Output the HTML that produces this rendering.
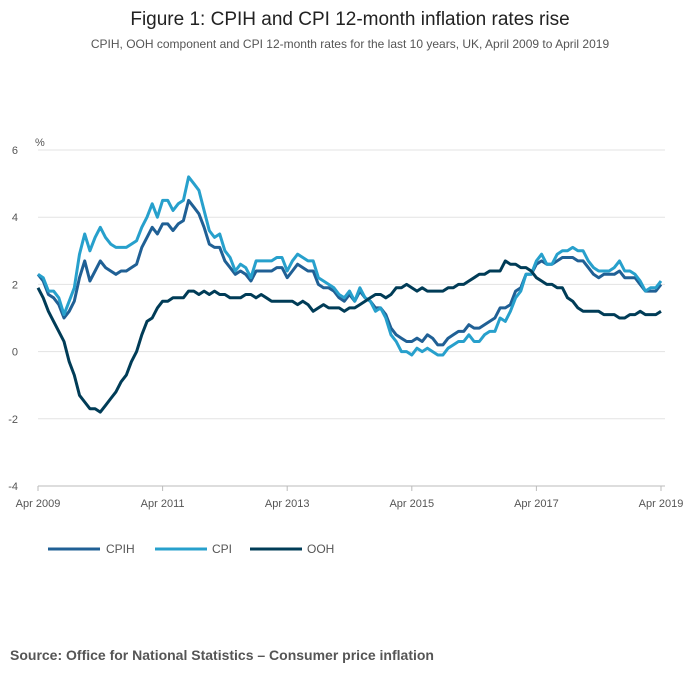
<!DOCTYPE html>
<html><head><meta charset="utf-8">
<style>
body{margin:0;background:#fff;font-family:"Liberation Sans",sans-serif;}
#wrap{position:relative;width:700px;height:682px;overflow:hidden;}
</style></head>
<body>
<div id="wrap">
<svg id="chart" width="700" height="682">
<text x="350" y="25" text-anchor="middle" font-size="19" fill="#222">Figure 1: CPIH and CPI 12-month inflation rates rise</text>
<text x="350" y="48" text-anchor="middle" font-size="12" fill="#555">CPIH, OOH component and CPI 12-month rates for the last 10 years, UK, April 2009 to April 2019</text>
<text x="35" y="146" font-size="11" fill="#555">%</text>
<g id="grid"></g><g id="xaxis"></g><g id="lines"></g>
<g>
<line x1="48" y1="549" x2="100" y2="549" stroke="#206095" stroke-width="3"/>
<text x="106" y="553" font-size="12" fill="#555">CPIH</text>
<line x1="155" y1="549" x2="207" y2="549" stroke="#27a0cc" stroke-width="3"/>
<text x="212" y="553" font-size="12" fill="#555">CPI</text>
<line x1="250" y1="549" x2="302" y2="549" stroke="#003c57" stroke-width="3"/>
<text x="307" y="553" font-size="12" fill="#555">OOH</text>
</g>
<text x="10" y="660" font-size="14" font-weight="bold" fill="#555">Source: Office for National Statistics – Consumer price inflation</text>
</svg>
</div>
<script>
const yTicks=[6,4,2,0,-2,-4];
const xTickLabels=["Apr 2009","Apr 2011","Apr 2013","Apr 2015","Apr 2017","Apr 2019"];
const xTickMonths=[0,24,48,72,96,120];
const cpih=[2.3,2.1,1.7,1.6,1.4,1.0,1.2,1.5,2.2,
2.7,2.1,2.4,2.7,2.5,2.4,2.3,2.4,2.4,2.5,2.6,3.1,
3.4,3.7,3.5,3.8,3.8,3.6,3.8,3.9,4.5,4.3,4.1,3.7,
3.2,3.1,3.1,2.7,2.5,2.3,2.4,2.3,2.1,2.4,2.4,2.4,
2.4,2.5,2.5,2.2,2.4,2.6,2.5,2.4,2.4,2.0,1.9,1.9,
1.8,1.6,1.5,1.7,1.5,1.8,1.6,1.5,1.3,1.3,1.1,0.7,
0.5,0.4,0.3,0.3,0.4,0.3,0.5,0.4,0.2,0.2,0.4,0.5,
0.6,0.6,0.8,0.7,0.7,0.8,0.9,1.0,1.3,1.3,1.4,1.8,
1.9,2.3,2.3,2.6,2.7,2.6,2.6,2.7,2.8,2.8,2.8,2.7,
2.7,2.5,2.3,2.2,2.3,2.3,2.3,2.4,2.2,2.2,2.2,2.0,
1.8,1.8,1.8,2.0];
const cpi=[2.3,2.2,1.8,1.8,1.6,1.1,1.5,1.9,2.9,
3.5,3.0,3.4,3.7,3.4,3.2,3.1,3.1,3.1,3.2,3.3,3.7,
4.0,4.4,4.0,4.5,4.5,4.2,4.4,4.5,5.2,5.0,4.8,4.2,
3.6,3.4,3.5,3.0,2.8,2.4,2.6,2.5,2.2,2.7,2.7,2.7,
2.7,2.8,2.8,2.4,2.7,2.9,2.8,2.7,2.7,2.2,2.1,2.0,
1.9,1.7,1.6,1.8,1.5,1.9,1.6,1.5,1.2,1.3,1.0,0.5,
0.3,0.0,0.0,-0.1,0.1,0.0,0.1,0.0,-0.1,-0.1,0.1,0.2,
0.3,0.3,0.5,0.3,0.3,0.5,0.6,0.6,1.0,0.9,1.2,1.6,
1.8,2.3,2.3,2.7,2.9,2.6,2.6,2.9,3.0,3.0,3.1,3.0,
3.0,2.7,2.5,2.4,2.4,2.4,2.5,2.7,2.4,2.4,2.3,2.1,
1.8,1.9,1.9,2.1];
const ooh=[1.9,1.6,1.2,0.9,0.6,0.3,-0.3,-0.7,-1.3,
-1.5,-1.7,-1.7,-1.8,-1.6,-1.4,-1.2,-0.9,-0.7,-0.3,0.0,0.5,
0.9,1.0,1.3,1.5,1.5,1.6,1.6,1.6,1.8,1.8,1.7,1.8,
1.7,1.8,1.7,1.7,1.6,1.6,1.6,1.7,1.7,1.6,1.7,1.6,
1.5,1.5,1.5,1.5,1.5,1.4,1.5,1.4,1.2,1.3,1.4,1.3,
1.3,1.3,1.2,1.3,1.3,1.4,1.5,1.6,1.7,1.7,1.6,1.7,
1.9,1.9,2.0,1.9,1.8,1.9,1.8,1.8,1.8,1.8,1.9,1.9,
2.0,2.0,2.1,2.2,2.3,2.3,2.4,2.4,2.4,2.7,2.6,2.6,
2.5,2.5,2.4,2.2,2.1,2.0,2.0,1.9,1.9,1.6,1.5,1.3,
1.2,1.2,1.2,1.2,1.1,1.1,1.1,1.0,1.0,1.1,1.1,1.2,
1.1,1.1,1.1,1.2];
const NS="http://www.w3.org/2000/svg";
const X0=38,X1=661,Y0=150,Y1=486;
function xs(i){return X0+(X1-X0)*i/120;}
function ys(v){return Y0+(6-v)*(Y1-Y0)/10;}
const grid=document.getElementById('grid');
yTicks.forEach(t=>{
 const l=document.createElementNS(NS,'line');
 l.setAttribute('x1',X0);l.setAttribute('x2',665);l.setAttribute('y1',ys(t));l.setAttribute('y2',ys(t));
 l.setAttribute('stroke',t===-4?'#bbb':'#e3e3e3');l.setAttribute('stroke-width','1');
 
 
 grid.appendChild(l);
 const tx=document.createElementNS(NS,'text');
 tx.setAttribute('x',18);tx.setAttribute('y',ys(t)+4);tx.setAttribute('text-anchor','end');
 tx.setAttribute('font-size','11');tx.setAttribute('fill','#555');tx.textContent=t;
 
 
 grid.appendChild(tx);
});
const xa=document.getElementById('xaxis');
xTickMonths.forEach((m,i)=>{
 const l=document.createElementNS(NS,'line');
 l.setAttribute('x1',xs(m));l.setAttribute('x2',xs(m));l.setAttribute('y1',Y1);l.setAttribute('y2',Y1+5);
 l.setAttribute('stroke','#bbb');
 
 
 xa.appendChild(l);
 const tx=document.createElementNS(NS,'text');
 tx.setAttribute('x',xs(m));tx.setAttribute('y',507);tx.setAttribute('text-anchor','middle');
 tx.setAttribute('font-size','11');tx.setAttribute('fill','#555');tx.textContent=xTickLabels[i];
 
 
 xa.appendChild(tx);
});
const lines=document.getElementById('lines');
[[cpih,'#206095','cpih-line'],[cpi,'#27a0cc','cpi-line'],[ooh,'#003c57','ooh-line']].forEach(s=>{
 const p=document.createElementNS(NS,'path');
 p.setAttribute('d',s[0].map((v,i)=>(i?'L':'M')+xs(i).toFixed(1)+','+ys(v).toFixed(1)).join(''));
 p.setAttribute('fill','none');p.setAttribute('stroke',s[1]);p.setAttribute('stroke-width','3');
 p.setAttribute('stroke-linejoin','round');
 
 
 lines.appendChild(p);
});
</script>
</body></html>
